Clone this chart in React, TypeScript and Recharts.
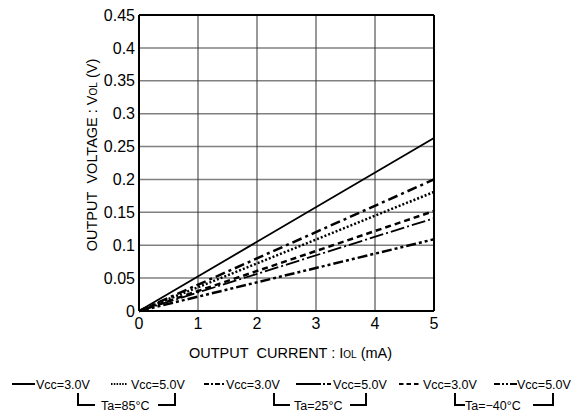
import React from 'react';
import { LineChart, Line, XAxis, YAxis, CartesianGrid, ReferenceLine } from 'recharts';

const currents = [0, 5];
const v30_85 = [0, 0.263];
const v50_85 = [0, 0.181];
const v30_25 = [0, 0.2];
const v50_25 = [0, 0.141];
const v30_m40 = [0, 0.152];
const v50_m40 = [0, 0.109];
const xTicks = [0, 1, 2, 3, 4, 5];
const yTicks = [0, 0.05, 0.1, 0.15, 0.2, 0.25, 0.3, 0.35, 0.4, 0.45];

const data = currents.map((c, i) => ({
  i: c,
  a: v30_85[i],
  b: v50_85[i],
  c: v30_25[i],
  d: v50_25[i],
  e: v30_m40[i],
  f: v50_m40[i],
}));

const FONT = '"Liberation Sans", Arial, sans-serif';

const YTitle = (props: any) => {
  const vb = props.viewBox || {};
  const cy = vb.y + vb.height / 2 - 8;
  const cx = 97;
  return (
    <text x={cx} y={cy} transform={`rotate(-90 ${cx} ${cy})`} textAnchor="middle" fontSize={14.5} fontFamily={FONT} fill="#000">
      <tspan>{'OUTPUT\u00A0\u00A0VOLTAGE : V'}</tspan>
      <tspan fontSize={10}>OL</tspan>
      <tspan>{'\u00A0(V)'}</tspan>
    </text>
  );
};

const XTitle = (props: any) => {
  const vb = props.viewBox || {};
  const cx = vb.x + vb.width / 2 + 4;
  return (
    <text x={cx} y={358} textAnchor="middle" fontSize={14.5} fontFamily={FONT} fill="#000">
      <tspan>{'OUTPUT\u00A0\u00A0CURRENT : I'}</tspan>
      <tspan fontSize={10}>OL</tspan>
      <tspan>{'\u00A0(mA)'}</tspan>
    </text>
  );
};

const Legend = () => {
  const y = 384;
  const ty = 389;
  const fs = 12.5;
  const by = 405;
  return (
    <svg width={574} height={412} style={{ position: 'absolute', left: 0, top: 0, pointerEvents: 'none' }}>
      <g stroke="#000" fill="none">
        <line x1={12} y1={y} x2={35} y2={y} strokeWidth={2} />
        <line x1={111} y1={y} x2={127} y2={y} strokeWidth={2} strokeDasharray="1.5 1.3" />
        <line x1={204} y1={y} x2={225} y2={y} strokeWidth={2.2} strokeDasharray="5 2 2 2" />
        <line x1={296} y1={y} x2={333} y2={y} strokeWidth={2} strokeDasharray="25 2 2 2 4 40" />
        <line x1={399} y1={y} x2={419} y2={y} strokeWidth={2.2} strokeDasharray="4.5 3" />
        <line x1={494} y1={y} x2={517} y2={y} strokeWidth={2.2} strokeDasharray="6 2 2 2 2 2 8" />
        <polyline points={`78,393 78,${by} 95,${by}`} strokeWidth={2} />
        <polyline points={`158,${by} 175,${by} 175,393`} strokeWidth={2} />
        <polyline points={`274,393 274,${by} 290,${by}`} strokeWidth={2} />
        <polyline points={`350,${by} 366,${by} 366,393`} strokeWidth={2} />
        <polyline points={`455,393 455,${by} 465,${by}`} strokeWidth={2} />
        <polyline points={`533,${by} 553,${by} 553,393`} strokeWidth={2} />
      </g>
      <g fontFamily={FONT} fontSize={fs} fill="#000">
        <text x={36} y={ty}>Vcc=3.0V</text>
        <text x={131} y={ty}>Vcc=5.0V</text>
        <text x={226} y={ty}>Vcc=3.0V</text>
        <text x={333} y={ty}>Vcc=5.0V</text>
        <text x={423} y={ty}>Vcc=3.0V</text>
        <text x={517} y={ty}>Vcc=5.0V</text>
        <text x={101} y={410}>Ta=85°C</text>
        <text x={294} y={410}>Ta=25°C</text>
        <text x={465} y={410}>Ta=−40°C</text>
      </g>
    </svg>
  );
};

export default function App() {
  return (
    <div style={{ position: 'absolute', left: 0, top: 0, width: 574, height: 412, background: '#fff' }}>
      <LineChart width={574} height={412} data={data} margin={{ top: 15, right: 140, left: 0, bottom: 0 }}>
        <CartesianGrid horizontal={true} vertical={false} stroke="#808080" strokeWidth={1.5} />
        <CartesianGrid horizontal={false} vertical={true} stroke="#333" strokeWidth={1} />
        <XAxis
          dataKey="i"
          type="number"
          domain={[0, 5]}
          ticks={xTicks}
          height={101}
          tickLine={false}
          tickSize={5}
          tickMargin={2}
          axisLine={{ stroke: '#000', strokeWidth: 2 }}
          tick={{ fill: '#000', fontSize: 16, fontFamily: FONT }}
          label={<XTitle />}
        />
        <YAxis
          type="number"
          domain={[0, 0.45]}
          ticks={yTicks}
          width={139}
          tickLine={false}
          tickSize={2}
          tickMargin={2}
          axisLine={{ stroke: '#000', strokeWidth: 2 }}
          tick={{ fill: '#000', fontSize: 16, fontFamily: FONT }}
          tickFormatter={(v: number) => String(Math.round(v * 100) / 100)}
          label={<YTitle />}
        />
        <ReferenceLine y={0.45} stroke="#000" strokeWidth={2} />
        <ReferenceLine x={5} stroke="#000" strokeWidth={2} />
        <Line dataKey="a" stroke="#000" strokeWidth={1.8} dot={false} isAnimationActive={false} />
        <Line dataKey="c" stroke="#000" strokeWidth={2.5} strokeDasharray="10 4 3 4" dot={false} isAnimationActive={false} />
        <Line dataKey="b" stroke="#000" strokeWidth={2.5} strokeDasharray="2 2" dot={false} isAnimationActive={false} />
        <Line dataKey="e" stroke="#000" strokeWidth={2.5} strokeDasharray="6 4" dot={false} isAnimationActive={false} />
        <Line dataKey="d" stroke="#000" strokeWidth={1.8} strokeDasharray="14 3 2 3" dot={false} isAnimationActive={false} />
        <Line dataKey="f" stroke="#000" strokeWidth={2.5} strokeDasharray="10 3 3 3 3 3" dot={false} isAnimationActive={false} />
      </LineChart>
      <Legend />
    </div>
  );
}
